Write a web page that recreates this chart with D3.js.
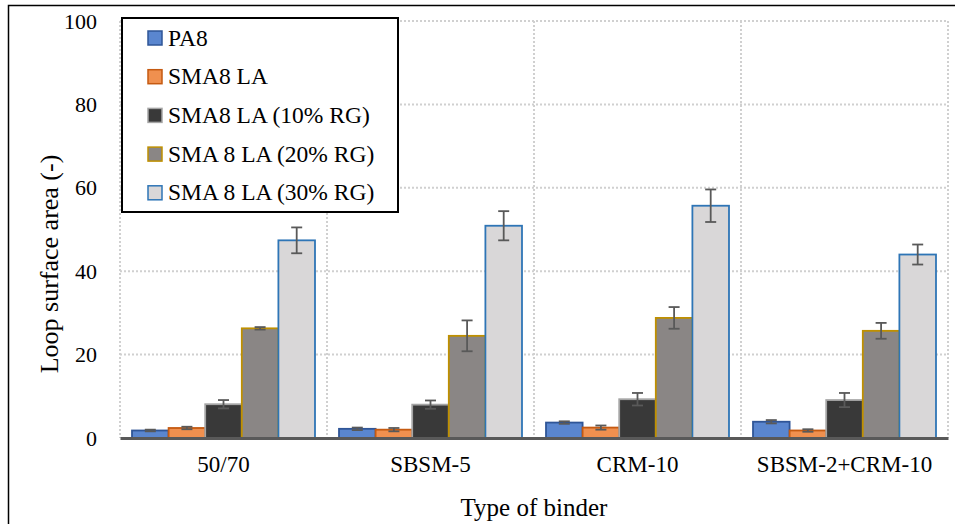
<!DOCTYPE html>
<html>
<head>
<meta charset="utf-8">
<script src="https://cdn.jsdelivr.net/npm/d3@7"></script>
<style>
  body { margin: 0; background: #fff; }
  svg text { font-family: "Liberation Serif", "DejaVu Serif", serif; fill: #000; }
</style>
</head>
<body>
<div id="chart"></div>
<script>
// data
let categories = ["50/70", "SBSM-5", "CRM-10", "SBSM-2+CRM-10"];
let seriesNames = ["PA8", "SMA8 LA", "SMA8 LA (10% RG)", "SMA 8 LA (20% RG)", "SMA 8 LA (30% RG)"];
let pa8 = [1.8, 2.2, 3.7, 3.9];
let pa8Err = [0.2, 0.3, 0.3, 0.4];
let sma8 = [2.4, 2.0, 2.5, 1.8];
let sma8Err = [0.3, 0.4, 0.5, 0.3];
let rg10 = [8.1, 8.0, 9.3, 9.1];
let rg10Err = [1.0, 1.0, 1.5, 1.7];
let rg20 = [26.3, 24.5, 28.8, 25.7];
let rg20Err = [0.3, 3.7, 2.6, 1.9];
let rg30 = [47.4, 50.9, 55.7, 44.0];
let rg30Err = [3.1, 3.5, 3.9, 2.4];
let yTicks = [0, 20, 40, 60, 80, 100];

let values = [pa8, sma8, rg10, rg20, rg30];
let errors = [pa8Err, sma8Err, rg10Err, rg20Err, rg30Err];

// styles per series
let fills = ["#5a86cf", "#f0904f", "#393939", "#8a8685", "#d9d7d8"];
let strokes = ["#2f5597", "#c55a11", "#a5a5a5", "#bf9000", "#2e75b6"];

let svgWidth = 955, svgHeight = 524;
let margin = { top: 21, right: 7, bottom: 86, left: 120 };

let svg = d3.select("#chart").append("svg")
  .attr("width", svgWidth)
  .attr("height", svgHeight);

// outer frame (right and bottom run off the picture)
svg.append("rect")
  .attr("x", 8.5).attr("y", 5.5)
  .attr("width", 960).attr("height", 540)
  .attr("fill", "none")
  .attr("stroke", "#000")
  .attr("stroke-width", 1.5);

let width = svgWidth - margin.left - margin.right,
    height = svgHeight - margin.top - margin.bottom;

let chartGroup = svg.append("g")
  .attr("transform", `translate(${margin.left}, ${margin.top})`);

let x = d3.scaleBand().domain(categories).range([0, width]).padding(0);
let xs = d3.scaleBand().domain(d3.range(seriesNames.length))
  .range([x.bandwidth() * 0.058, x.bandwidth() * 0.942]).padding(0);
let y = d3.scaleLinear().domain([0, 100]).range([height, 0]);

// horizontal dotted gridlines
chartGroup.selectAll(".hgrid")
  .data(yTicks.filter(d => d > 0))
  .enter().append("line")
  .attr("x1", 0).attr("x2", width)
  .attr("y1", d => y(d)).attr("y2", d => y(d))
  .attr("stroke", "#d0d0d0").attr("stroke-width", 2)
  .attr("stroke-dasharray", "2,2");

// vertical dotted gridlines at category edges
let edges = categories.map(c => x(c)).concat([width]);
chartGroup.selectAll(".vgrid")
  .data(edges)
  .enter().append("line")
  .attr("x1", d => d).attr("x2", d => d)
  .attr("y1", y(100)).attr("y2", height)
  .attr("stroke", "#d0d0d0").attr("stroke-width", 2)
  .attr("stroke-dasharray", "2,2");

// y axis labels
let yAxis = chartGroup.append("g")
  .call(d3.axisLeft(y).tickValues(yTicks).tickSize(0).tickPadding(23))
  .call(g => g.select(".domain").remove());
yAxis.selectAll("text")
  .style("font-family", '"Liberation Serif", serif')
  .style("font-size", "22px")
  .attr("fill", "#000");

// bars
let barData = [];
values.forEach((vals, s) => {
  vals.forEach((v, i) => {
    barData.push({ s: s, cat: categories[i], v: v, e: errors[s][i] });
  });
});

chartGroup.selectAll(".bar")
  .data(barData)
  .enter().append("rect")
  .attr("class", "bar")
  .attr("x", d => x(d.cat) + xs(d.s))
  .attr("y", d => y(d.v))
  .attr("width", xs.bandwidth())
  .attr("height", d => height - y(d.v))
  .attr("fill", d => fills[d.s])
  .attr("stroke", d => strokes[d.s])
  .attr("stroke-width", 1.8);

// error bars
let errG = chartGroup.selectAll(".err")
  .data(barData)
  .enter().append("g")
  .attr("transform", d => `translate(${x(d.cat) + xs(d.s) + xs.bandwidth() / 2},0)`);
errG.append("line")
  .attr("x1", 0).attr("x2", 0)
  .attr("y1", d => y(d.v + d.e)).attr("y2", d => y(d.v - d.e))
  .attr("stroke", "#595959").attr("stroke-width", 1.8);
errG.append("line")
  .attr("x1", -5.5).attr("x2", 5.5)
  .attr("y1", d => y(d.v + d.e)).attr("y2", d => y(d.v + d.e))
  .attr("stroke", "#595959").attr("stroke-width", 1.8);
errG.append("line")
  .attr("x1", -5.5).attr("x2", 5.5)
  .attr("y1", d => y(d.v - d.e)).attr("y2", d => y(d.v - d.e))
  .attr("stroke", "#595959").attr("stroke-width", 1.8);

// x axis baseline and labels
let xAxis = chartGroup.append("g")
  .attr("transform", `translate(0,${height})`)
  .call(d3.axisBottom(x).tickSize(0).tickPadding(18));
xAxis.select(".domain")
  .attr("stroke", "#595959").attr("stroke-width", 3);
xAxis.selectAll("text")
  .style("font-family", '"Liberation Serif", serif')
  .style("font-size", "23px")
  .attr("fill", "#000");

// axis titles
svg.append("text")
  .attr("x", 534)
  .attr("y", 516)
  .attr("text-anchor", "middle")
  .style("font-size", "25px")
  .text("Type of binder");

svg.append("text")
  .attr("transform", "translate(58,264) rotate(-90)")
  .attr("text-anchor", "middle")
  .style("font-size", "26px")
  .text("Loop surface area (-)");

// legend
let legend = svg.append("g");
legend.append("rect")
  .attr("x", 122).attr("y", 18)
  .attr("width", 276).attr("height", 194)
  .attr("fill", "#fff")
  .attr("stroke", "#000").attr("stroke-width", 2);

let rows = legend.selectAll(".lrow")
  .data(seriesNames)
  .enter().append("g")
  .attr("transform", (d, i) => `translate(148,${38 + i * 38.7})`);
rows.append("rect")
  .attr("x", 0).attr("y", -7)
  .attr("width", 14).attr("height", 14)
  .attr("fill", (d, i) => fills[i])
  .attr("stroke", (d, i) => strokes[i])
  .attr("stroke-width", 1.5);
rows.append("text")
  .attr("x", 20).attr("y", 7.5)
  .style("font-size", "23.5px")
  .text(d => d);
</script>
</body>
</html>
